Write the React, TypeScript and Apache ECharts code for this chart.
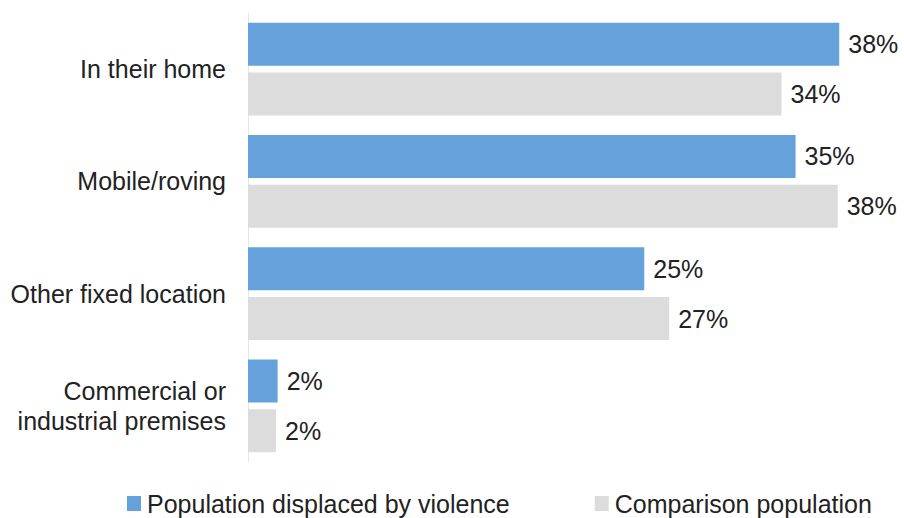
import React, { useEffect, useRef } from "react";
import * as echarts from "echarts";

const categories = [
  "In their home",
  "Mobile/roving",
  "Other fixed location",
  "Commercial or\nindustrial premises",
];
const displacedValues = [37.9, 35.1, 25.4, 1.9];
const comparisonValues = [34.2, 37.8, 27.0, 1.8];
const seriesNames = ["Population displaced by violence", "Comparison population"];

const FONT = "Liberation Sans, Arial, Helvetica, sans-serif";

export default function App() {
  const ref = useRef<HTMLDivElement>(null);
  useEffect(() => {
    document.body.style.margin = "0";
    if (!ref.current) return;
    const chart = echarts.init(ref.current, null, { renderer: "svg" });
    const label = {
      show: true,
      position: "right",
      distance: 9,
      fontSize: 25,
      fontFamily: FONT,
      color: "#222",
      formatter: (p: any) => Math.round(p.value) + "%",
    };
    chart.setOption({
      animation: false,
      backgroundColor: "#fff",
      textStyle: { fontFamily: FONT },
      legend: {
        left: 127,
        top: 491,
        padding: 0,
        itemWidth: 14,
        itemHeight: 15,
        itemGap: 85,
        icon: "rect",
        textStyle: { fontSize: 25, color: "#222", fontFamily: FONT, padding: [0, 0, 0, 1] },
        data: seriesNames,
      },
      grid: { left: 248, top: 13, height: 449, width: 624, containLabel: false },
      xAxis: {
        type: "value",
        min: 0,
        max: 40,
        show: false,
        splitLine: { show: false },
      },
      yAxis: {
        type: "category",
        inverse: true,
        data: categories,
        axisLine: { show: true, lineStyle: { color: "#e6e6e6", width: 1 } },
        axisTick: { show: false },
        axisLabel: {
          fontSize: 25,
          fontFamily: FONT,
          color: "#222",
          margin: 22,
          lineHeight: 30,
          align: "right",
        },
      },
      series: [
        {
          name: seriesNames[0],
          type: "bar",
          data: displacedValues,
          itemStyle: { color: "#65a2db" },
          barWidth: 43,
          barGap: "16%",
          label,
        },
        {
          name: seriesNames[1],
          type: "bar",
          data: comparisonValues,
          itemStyle: { color: "#dcdcdc" },
          barWidth: 43,
          barGap: "16%",
          label,
        },
      ],
    });
    return () => chart.dispose();
  }, []);
  return <div ref={ref} style={{ width: 904, height: 518 }} />;
}
